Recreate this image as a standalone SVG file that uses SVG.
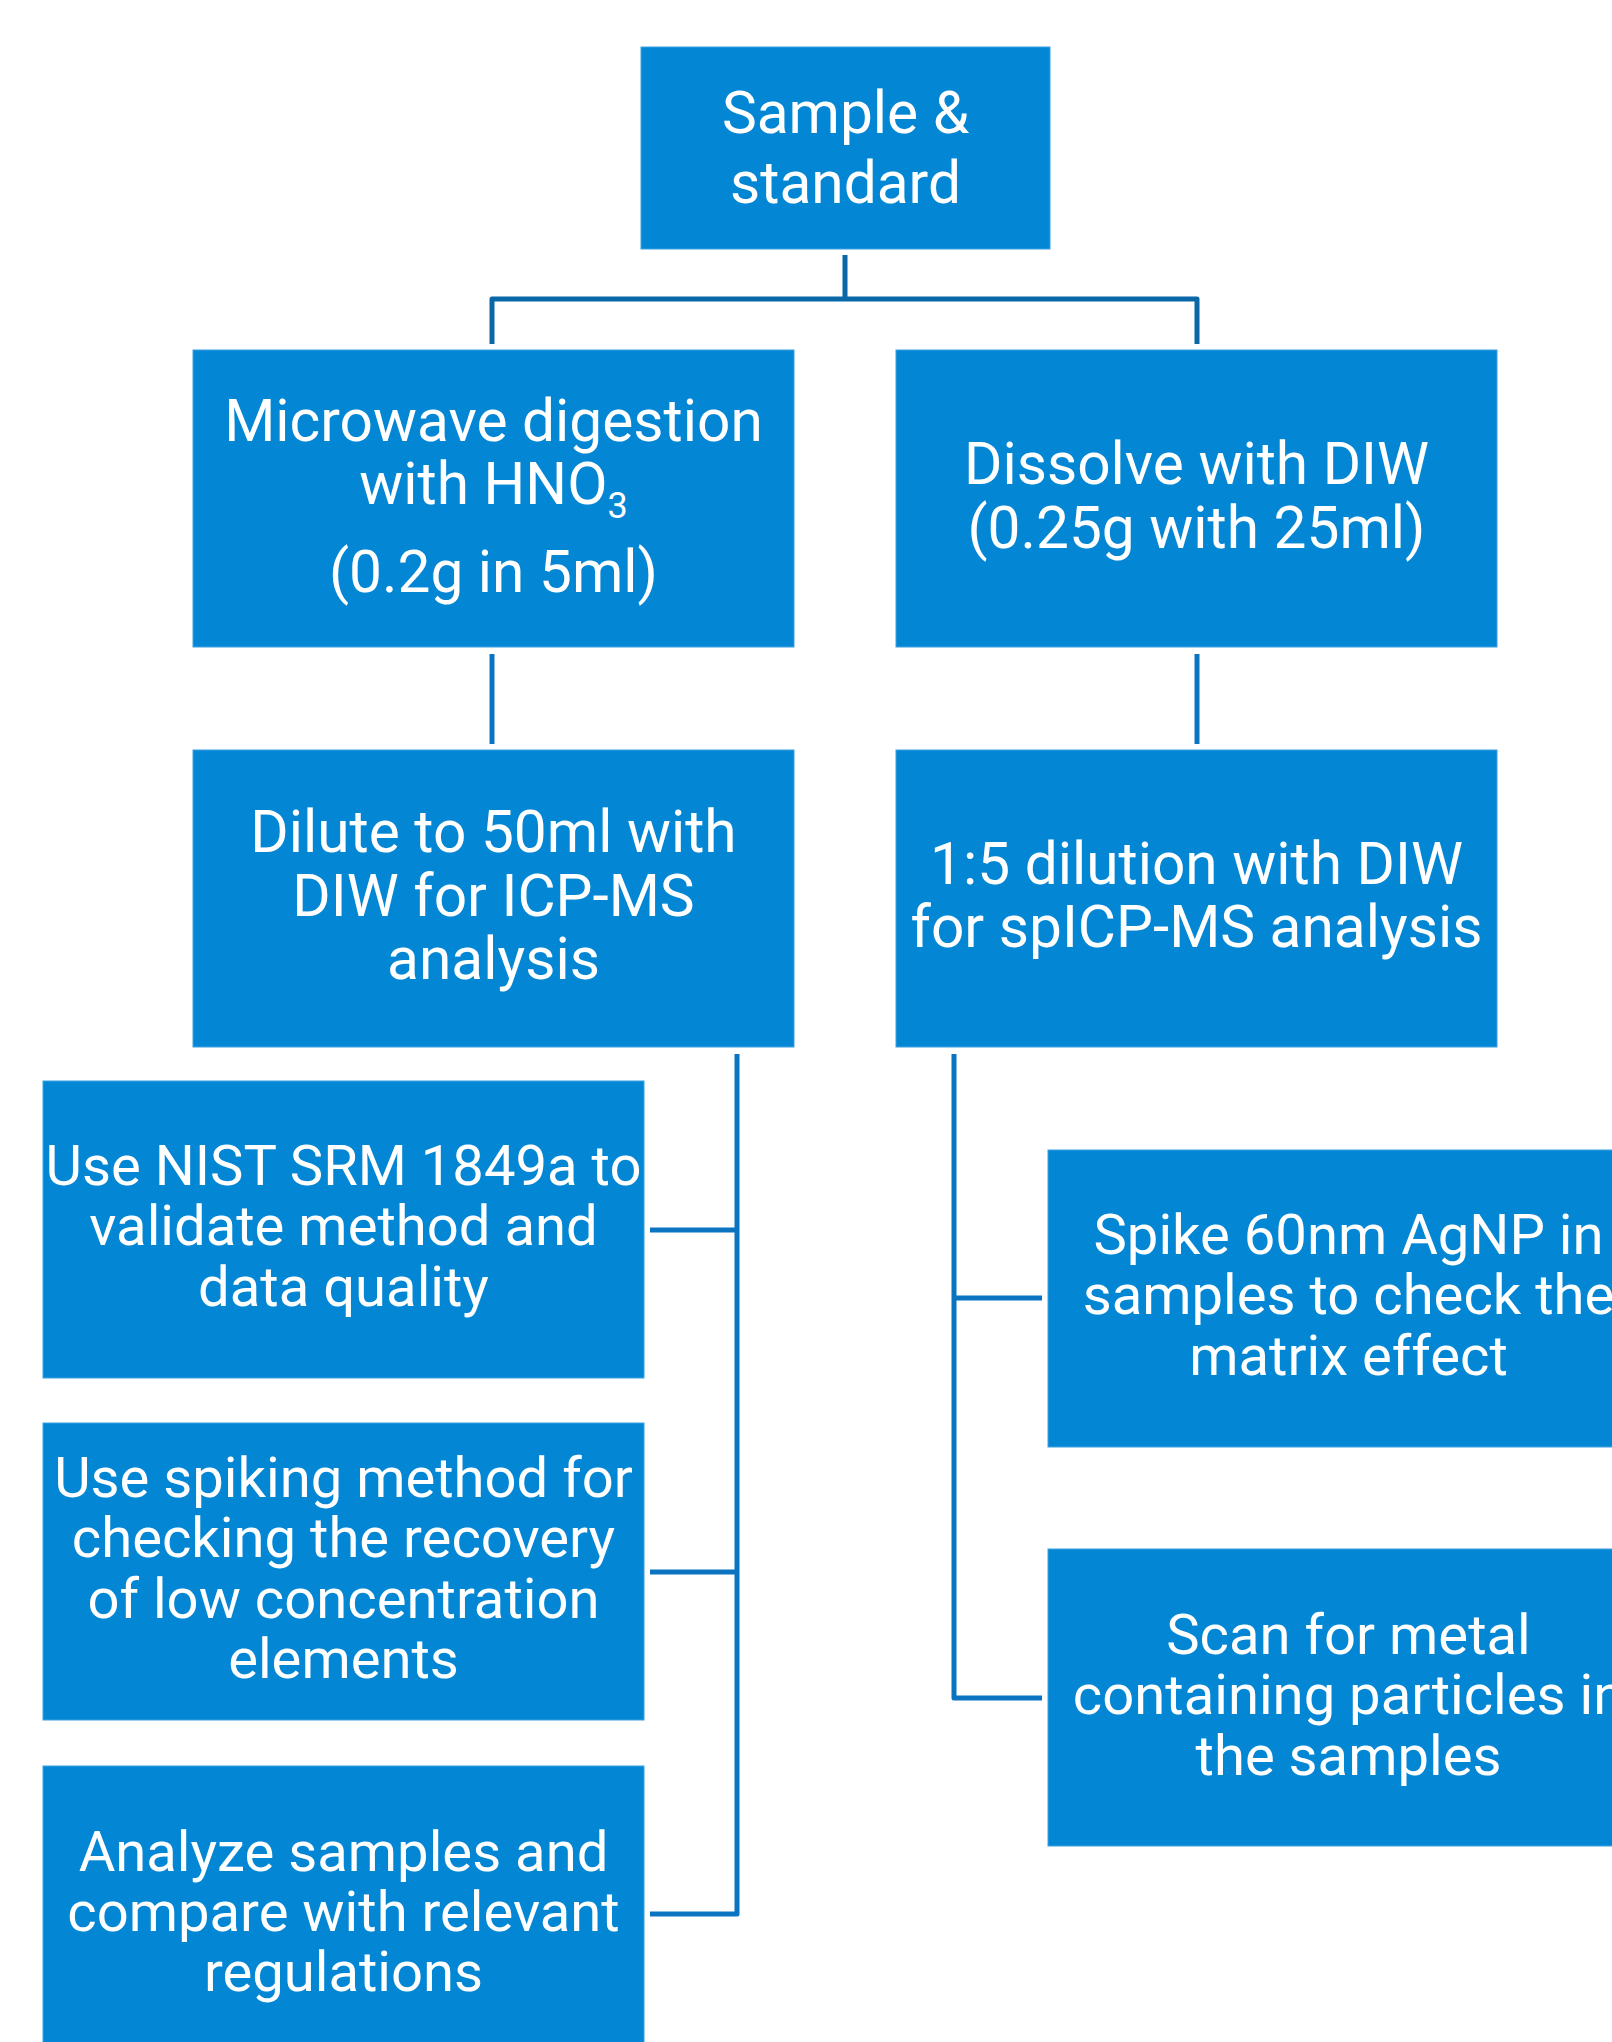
<svg xmlns="http://www.w3.org/2000/svg" width="1612" height="2042" viewBox="0 0 1612 2042">
<style>
.box{fill:#0386D4;stroke:#3DA0E2;stroke-width:1}
.t{font-family:Roboto,"Liberation Sans",sans-serif;fill:#FFFFFF;text-anchor:middle}
.big{font-size:58.6px}
.mid{font-size:56.2px}
.c{fill:none;stroke:#0A74C0;stroke-width:5;stroke-linejoin:round}
.ctop{fill:none;stroke:#0A67A8;stroke-width:5;stroke-linejoin:round}
</style>
<rect width="1612" height="2042" fill="#FFFFFF"/>
<g id="connectors">
<path class="ctop" d="M845 255 V299 M492 344 V299 H1197 V344"/>
<path class="c" d="M492 654 V744"/>
<path class="c" d="M1197 654 V744"/>
<path class="c" d="M737 1054 V1914 H650 M650 1230 H737 M650 1572 H737"/>
<path class="c" d="M954 1054 V1698 H1042 M954 1298 H1042"/>
</g>
<g id="n-sample">
<rect class="box" x="641" y="47" width="409" height="202"/>
<text class="t big" x="845.5" y="133">Sample &amp;</text>
<text class="t big" x="845.5" y="203">standard</text>
</g>
<g id="n-microwave">
<rect class="box" x="193" y="350" width="601" height="297"/>
<text class="t big" x="493.5" y="441">Microwave digestion</text>
<text class="t big" x="493.5" y="504">with HNO<tspan font-size="36" dy="14">3</tspan></text>
<text class="t big" x="493.5" y="592">(0.2g in 5ml)</text>
</g>
<g id="n-dissolve">
<rect class="box" x="896" y="350" width="601" height="297"/>
<text class="t big" x="1196.5" y="484">Dissolve with DIW</text>
<text class="t big" x="1196.5" y="548">(0.25g with 25ml)</text>
</g>
<g id="n-dilute">
<rect class="box" x="193" y="750" width="601" height="297"/>
<text class="t big" x="493.5" y="852">Dilute to 50ml with</text>
<text class="t big" x="493.5" y="916">DIW for ICP-MS</text>
<text class="t big" x="493.5" y="979">analysis</text>
</g>
<g id="n-dilution15">
<rect class="box" x="896" y="750" width="601" height="297"/>
<text class="t big" x="1196.5" y="884">1:5 dilution with DIW</text>
<text class="t big" x="1196.5" y="947">for spICP-MS analysis</text>
</g>
<g id="n-nist">
<rect class="box" x="43" y="1081" width="601" height="297"/>
<text class="t mid" x="343.5" y="1185">Use NIST SRM 1849a to</text>
<text class="t mid" x="343.5" y="1245">validate method and</text>
<text class="t mid" x="343.5" y="1306">data quality</text>
</g>
<g id="n-spiking">
<rect class="box" x="43" y="1423" width="601" height="297"/>
<text class="t mid" x="343.5" y="1497">Use spiking method for</text>
<text class="t mid" x="343.5" y="1557">checking the recovery</text>
<text class="t mid" x="343.5" y="1618">of low concentration</text>
<text class="t mid" x="343.5" y="1678">elements</text>
</g>
<g id="n-analyze">
<rect class="box" x="43" y="1766" width="601" height="297"/>
<text class="t mid" x="343.5" y="1871">Analyze samples and</text>
<text class="t mid" x="343.5" y="1931">compare with relevant</text>
<text class="t mid" x="343.5" y="1991">regulations</text>
</g>
<g id="n-spike-agnp">
<rect class="box" x="1048" y="1150" width="601" height="297"/>
<text class="t mid" x="1348.5" y="1254">Spike 60nm AgNP in</text>
<text class="t mid" x="1348.5" y="1314">samples to check the</text>
<text class="t mid" x="1348.5" y="1375">matrix effect</text>
</g>
<g id="n-scan">
<rect class="box" x="1048" y="1549" width="601" height="297"/>
<text class="t mid" x="1348.5" y="1654">Scan for metal</text>
<text class="t mid" x="1348.5" y="1714">containing particles in</text>
<text class="t mid" x="1348.5" y="1775">the samples</text>
</g>
</svg>
